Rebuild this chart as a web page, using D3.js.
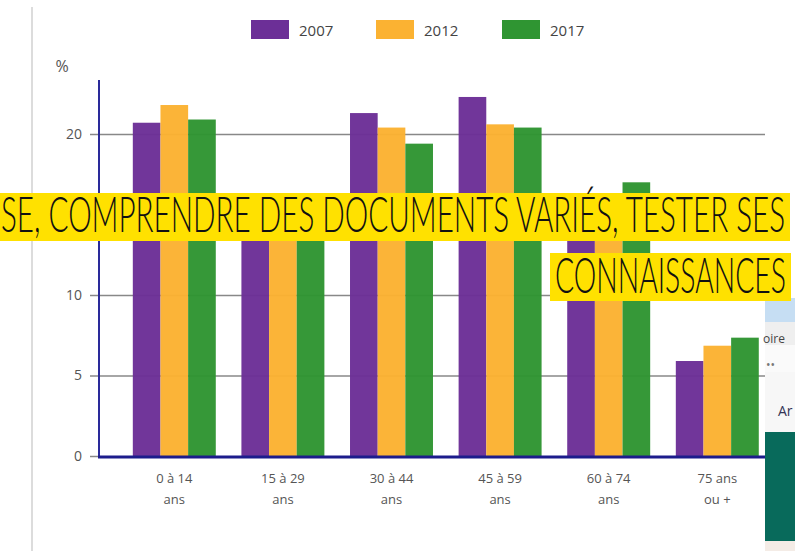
<!DOCTYPE html>
<html>
<head>
    <meta charset="utf-8">
    <script src="https://cdn.jsdelivr.net/npm/d3@7"></script>
    <style type="text/css">
        html, body {
            margin: 0;
            padding: 0;
            background: white;
            font-family: 'Open Sans', sans-serif;
        }
        svg { display: block; }
        .tick text { fill: #555; }
    </style>
</head>
<body>
<svg id="chart" width="795" height="551"></svg>
<script type="text/javascript">
    // age groups and shares (%) per census year
    var ageGroups = ["0 à 14|ans", "15 à 29|ans", "30 à 44|ans", "45 à 59|ans", "60 à 74|ans", "75 ans|ou +"];
    var years = ["2007", "2012", "2017"];
    var values2007 = [20.7, 15.8, 21.3, 22.3, 13.8, 5.9];
    var values2012 = [21.8, 15.0, 20.4, 20.6, 15.2, 6.85];
    var values2017 = [20.9, 14.8, 19.4, 20.4, 17.0, 7.35];
    var yTicks = [0, 5, 10, 20];   // 15 sits under the banner
    var colors = ["#6c2f97", "#fbb232", "#2f9532"];

    var series = [values2007, values2012, values2017];

    var svg = d3.select("#chart");

    // left frame line from the screenshot
    svg.append("line")
        .attr("x1", 32).attr("x2", 32).attr("y1", 7).attr("y2", 551)
        .attr("stroke", "#dcdcdc").attr("stroke-width", 2);

    var x = d3.scaleBand()
        .domain(ageGroups)
        .range([120, 771.6])
        .paddingInner(0.236)
        .paddingOuter(0.118);

    var xInner = d3.scaleBand()
        .domain(years)
        .range([0, x.bandwidth()]);

    var y = d3.scaleLinear()
        .domain([0, 20])
        .range([456, 134]);

    // gridlines + y axis labels
    var yAxis = svg.append("g")
        .attr("transform", "translate(99,0)")
        .call(d3.axisLeft(y).tickValues(yTicks).tickSize(9).tickPadding(8))
        .call(function(g) { g.select(".domain").remove(); });
    yAxis.selectAll(".tick line").attr("stroke", "#888").attr("stroke-width", 1.5);
    yAxis.selectAll(".tick text").attr("font-size", 14).attr("font-family", "'Open Sans', sans-serif");
    yAxis.selectAll(".tick").filter(function(d) { return d > 0; })
        .append("line")
        .attr("x1", 0).attr("x2", 666)
        .attr("stroke", "#888").attr("stroke-width", 1.5);

    // bars
    var groups = svg.append("g").selectAll("g")
        .data(ageGroups)
        .enter().append("g")
        .attr("transform", function(d) { return "translate(" + x(d) + ",0)"; });

    groups.selectAll("rect")
        .data(function(d, i) {
            return years.map(function(yr, j) { return { year: yr, value: series[j][i], c: colors[j] }; });
        })
        .enter().append("rect")
        .attr("x", function(d) { return xInner(d.year); })
        .attr("width", xInner.bandwidth())
        .attr("y", function(d) { return y(d.value); })
        .attr("height", function(d) { return y(0) - y(d.value); })
        .attr("fill", function(d) { return d.c; })
        .attr("opacity", 0.97);

    // axis lines (dark blue)
    svg.append("line")
        .attr("x1", 99).attr("x2", 99).attr("y1", 80).attr("y2", y(0) + 1)
        .attr("stroke", "#2a2a9a").attr("stroke-width", 2);
    svg.append("line")
        .attr("x1", 98).attr("x2", 765).attr("y1", y(0) + 1).attr("y2", y(0) + 1)
        .attr("stroke", "#1c1c8c").attr("stroke-width", 3);

    // x labels on two lines
    var xAxis = svg.append("g")
        .attr("transform", "translate(0," + (y(0) + 1) + ")")
        .call(d3.axisBottom(x).tickSize(0).tickPadding(17))
        .call(function(g) { g.select(".domain").remove(); });
    xAxis.selectAll(".tick text")
        .attr("font-size", 13).attr("font-family", "'Open Sans', sans-serif")
        .each(function(d) {
            var t = d3.select(this), parts = d.split("|");
            t.text(null);
            parts.forEach(function(p, k) {
                t.append("tspan").attr("x", 0).attr("dy", k === 0 ? "0.71em" : "1.6em").text(p);
            });
        });

    svg.append("text")
        .attr("x", 62).attr("y", 72)
        .attr("text-anchor", "middle")
        .attr("font-size", 16).attr("fill", "#555")
        .text("%");

    // legend
    var legendX = [251, 376, 502];
    var legend = svg.append("g").selectAll("g")
        .data(years)
        .enter().append("g")
        .attr("transform", function(d, i) { return "translate(" + legendX[i] + ",20)"; });
    legend.append("rect")
        .attr("width", 38).attr("height", 19)
        .attr("fill", function(d, i) { return colors[i]; });
    legend.append("text")
        .attr("x", 48).attr("y", 16)
        .attr("font-size", 15).attr("fill", "#444")
        .text(function(d) { return d; });

    // screenshot fragment on the right
    var side = [
        { y0: 298, y1: 322, c: "#c6def3" },
        { y0: 322, y1: 345, c: "#efefef" },
        { y0: 345, y1: 372, c: "#fafafa" },
        { y0: 372, y1: 432, c: "#f7f7f7" },
        { y0: 432, y1: 541, c: "#086a5b" },
        { y0: 541, y1: 551, c: "#f4ece6" }
    ];
    svg.append("g").selectAll("rect")
        .data(side)
        .enter().append("rect")
        .attr("x", 765).attr("width", 30)
        .attr("y", function(d) { return d.y0; })
        .attr("height", function(d) { return d.y1 - d.y0; })
        .attr("fill", function(d) { return d.c; });
    svg.append("text").attr("x", 763).attr("y", 343).attr("font-size", 12).attr("fill", "#444").text("oire");
    svg.append("text").attr("x", 766).attr("y", 369).attr("font-size", 12).attr("fill", "#777").text("••");
    svg.append("text").attr("x", 778).attr("y", 416).attr("font-size", 14).attr("fill", "#335").text("Ar");

    // yellow banners on top
    var bannerFont = "Lato, 'DejaVu Sans Condensed', sans-serif";
    svg.append("rect").attr("x", 0).attr("y", 193).attr("width", 790).attr("height", 48).attr("fill", "#ffe100");
    svg.append("text")
        .attr("x", 1).attr("y", 232)
        .attr("font-family", bannerFont).attr("font-size", 49).attr("font-weight", 300)
        .attr("textLength", 784).attr("lengthAdjust", "spacingAndGlyphs")
        .attr("fill", "#111")
        .text("SE, COMPRENDRE DES DOCUMENTS VARIÉS, TESTER SES");
    svg.append("rect").attr("x", 550).attr("y", 253).attr("width", 241).attr("height", 48).attr("fill", "#ffe100");
    svg.append("text")
        .attr("x", 555).attr("y", 293)
        .attr("font-family", bannerFont).attr("font-size", 49).attr("font-weight", 300)
        .attr("textLength", 231).attr("lengthAdjust", "spacingAndGlyphs")
        .attr("fill", "#111")
        .text("CONNAISSANCES");
</script>
</body>
</html>
